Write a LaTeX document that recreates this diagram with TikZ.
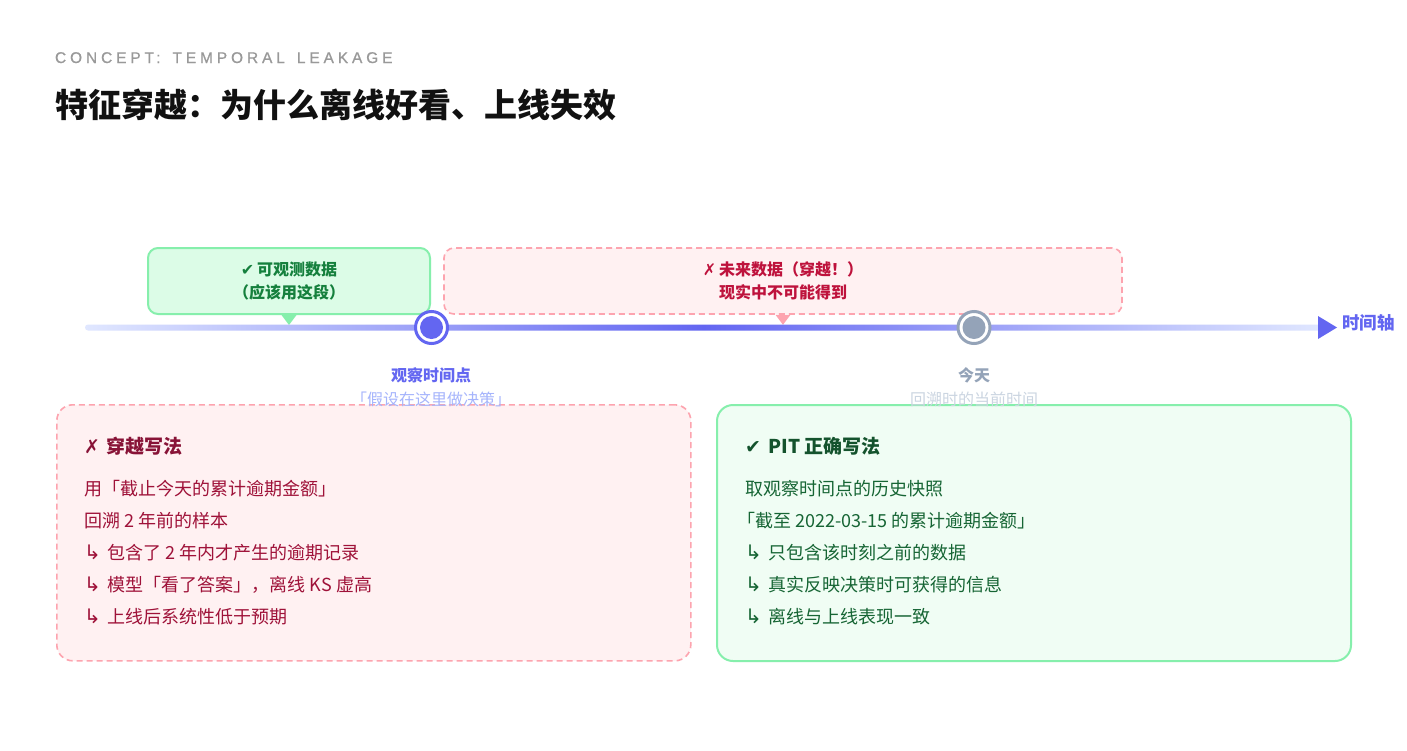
\documentclass[tikz,border=0pt]{standalone}
\usepackage{fontspec}
\setmainfont{Noto Sans CJK SC}
\newfontfamily\symf{DejaVu Sans}
\newfontfamily\capsf[LetterSpace=25,FakeBold=0.7]{Liberation Sans}
\usetikzlibrary{calc}
\definecolor{indigo}{HTML}{6366F1}
\definecolor{indlight}{HTML}{E0E7FF}
\definecolor{gfill}{HTML}{DCFCE7}
\definecolor{gfill2}{HTML}{F0FDF4}
\definecolor{gstroke}{HTML}{86EFAC}
\definecolor{rfill}{HTML}{FFF1F2}
\definecolor{rstroke}{HTML}{FDA4AF}
\definecolor{gtext}{HTML}{15803D}
\definecolor{rtext}{HTML}{BE123C}
\definecolor{slate}{HTML}{94A3B8}
\definecolor{slatelight}{HTML}{CBD5E1}
\definecolor{ilight}{HTML}{A5B4FC}
\definecolor{rdark}{HTML}{881337}
\definecolor{rmid}{HTML}{9F1239}
\definecolor{gdark}{HTML}{14532D}
\definecolor{gmid}{HTML}{166534}
\definecolor{eyebrow}{HTML}{999999}
\definecolor{titlec}{HTML}{111111}
\newcommand\pxs[2]{\fontsize{#1}{#2}\selectfont}
\newcommand\hookar{{\symf\pxs{20}{20}↳}\hspace{7pt}}
\newcommand\wsp{\hspace{12pt}}
\tikzset{
  txt/.style={inner sep=0pt, outer sep=0pt},
  gcallout/.style={draw=gstroke, fill=gfill, line width=2pt, rounded corners=10pt, inner sep=0pt},
  rcallout/.style={draw=rstroke, fill=rfill, line width=1.6pt, dash pattern=on 6pt off 4pt, rounded corners=10pt, inner sep=0pt},
  badcard/.style={draw=rstroke, fill=rfill, line width=1.6pt, dash pattern=on 6pt off 4pt, rounded corners=16pt, inner sep=0pt, anchor=north west},
  goodcard/.style={draw=gstroke, fill=gfill2, line width=2pt, rounded corners=16pt, inner sep=0pt, anchor=north west},
  ring/.style={circle, line width=3pt, fill=white, minimum size=32pt, inner sep=0pt},
  cardhead/.style={txt, anchor=west, font=\bfseries\pxs{19}{22}},
  cardline/.style={txt, anchor=west, font=\pxs{18}{21}},
}
\begin{document}
\begin{tikzpicture}[x=1pt,y=-1pt]
\useasboundingbox[fill=white] (0,0) rectangle (1407,750);

% header
\node[txt, anchor=base west, text=eyebrow, font=\capsf\pxs{15.5}{18}] (eyebrow) at (55,63) {CONCEPT:\wsp TEMPORAL\wsp LEAKAGE};
\node[txt, anchor=west, text=titlec, font=\bfseries\pxs{33}{36}] (title) at (55,104.5) {特征穿越：为什么离线好看、上线失效};

% bottom cards
\node[badcard, minimum width=634pt, minimum height=256pt] (bad) at (56,404) {};
\node[goodcard, minimum width=634pt, minimum height=256pt] (good) at (716,404) {};

% callouts above timeline
\node[gcallout, minimum width=282pt, minimum height=66pt, align=center, text=gtext, font=\bfseries\pxs{16}{23}] (obsbox) at (289,281)
  {{\symf ✔}\,可观测数据\\（应该用这段）};
\node[rcallout, minimum width=678pt, minimum height=66pt, align=center, text=rtext, font=\bfseries\pxs{16}{23}] (futbox) at (783,281)
  {{\symf ✗}\,未来数据（穿越！）\\现实中不可能得到};
\fill[gstroke] ($(obsbox.south)+(-7.5,0)$) -- ($(obsbox.south)+(7.5,0)$) -- ($(obsbox.south)+(0,10)$) -- cycle;
\fill[rstroke] ($(futbox.south)+(-7.5,0)$) -- ($(futbox.south)+(7.5,0)$) -- ($(futbox.south)+(0,10)$) -- cycle;

% timeline
\coordinate (tstart) at (85,327.5);
\coordinate (tend) at (1322,327.5);
\shade[left color=indlight, right color=indlight, middle color=indigo, rounded corners=3pt]
  ($(tstart)+(0,-3)$) rectangle ($(tend)+(0,3)$);
\fill[indigo] (1318,316) -- (1337,327.5) -- (1318,339) -- cycle;
\node[txt, anchor=west, text=indigo, font=\bfseries\pxs{17.5}{20}] (axislabel) at (1342,323) {时间轴};

\node[ring, draw=indigo] (obs) at (431.5,327.5) {};
\fill[indigo] (obs.center) circle (11.5);
\node[ring, draw=slate] (today) at (974,327.5) {};
\fill[slate] (today.center) circle (11.5);

% timeline labels
\node[txt, text=indigo, font=\bfseries\pxs{16}{20}] (obslab) at (431,375) {观察时间点};
\node[txt, text=ilight, font=\pxs{16}{20}] (obssub) at (431,399) {「假设在这里做决策」};
\node[txt, text=slate, font=\bfseries\pxs{16}{20}] (todaylab) at (974,375) {今天};
\node[txt, text=slatelight, font=\pxs{16}{20}] (todaysub) at (974,399) {回溯时的当前时间};

% bad card text
\node[cardhead, text=rdark] (badh) at (84,446) {{\symf ✗}\hspace{7pt}穿越写法};
\node[cardline, text=rmid] (b1) at (84,489) {用「截止今天的累计逾期金额」};
\node[cardline, text=rmid] (b2) at (84,521) {回溯 2 年前的样本};
\node[cardline, text=rmid] (b3) at (84,553) {\hookar 包含了 2 年内才产生的逾期记录};
\node[cardline, text=rmid] (b4) at (84,585) {\hookar 模型「看了答案」，离线 KS 虚高};
\node[cardline, text=rmid] (b5) at (84,617) {\hookar 上线后系统性低于预期};

% good card text
\node[cardhead, text=gdark] (goodh) at (745,446) {{\symf ✔}\, PIT 正确写法};
\node[cardline, text=gmid] (g1) at (745,489) {取观察时间点的历史快照};
\node[cardline, text=gmid] (g2) at (737,521) {「截至 2022-03-15 的累计逾期金额」};
\node[cardline, text=gmid] (g3) at (745,553) {\hookar 只包含该时刻之前的数据};
\node[cardline, text=gmid] (g4) at (745,585) {\hookar 真实反映决策时可获得的信息};
\node[cardline, text=gmid] (g5) at (745,617) {\hookar 离线与上线表现一致};
\end{tikzpicture}
\end{document}
